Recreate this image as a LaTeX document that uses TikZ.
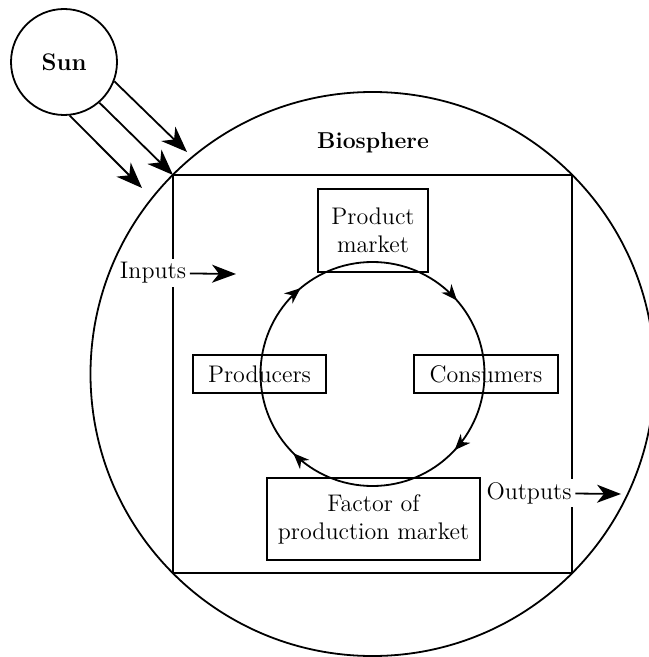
\documentclass[tikz,border=0pt]{standalone}
\usetikzlibrary{arrows.meta,decorations.markings}
\begin{document}
\begin{tikzpicture}[x=0.5pt,y=0.5pt,
	line width=0.9pt,
	box/.style={draw,rectangle,inner sep=0pt,align=center,font=\large},
	ray/.style={-{Stealth[length=13pt,width=10pt,inset=4pt]}},
	flow/.style={-{Stealth[length=12pt,width=9pt,inset=3.5pt]}},
	io/.style={fill=white,inner sep=1.5pt,font=\large},
	cyc/.tip={Stealth[length=8pt,width=6.5pt,inset=2.5pt]}
	]
	\useasboundingbox (0,0) rectangle (648,-657);
	\def\cx{372.5}
	\def\cy{-374}
	
	% sun and its rays
	\node[circle,draw,minimum size=53pt,inner sep=0pt,font=\large\bfseries] (sun) at (64,-62) {Sun};
	\coordinate (r1) at (187,-152);
	\coordinate (r2) at (173,-175);
	\coordinate (r3) at (142,-188);
	\draw[ray] (sun.-21) -- (r1);
	\draw[ray] (sun.-49) -- (r2);
	\draw[ray] (sun.-84) -- (r3);
	
	% biosphere
	\draw (\cx,\cy) circle (282);
	\draw (173,-175) rectangle (572,-573);
	\node[font=\fontsize{11.5}{13}\selectfont\bfseries] (bio) at (373,-143) {Biosphere};
	
	\node[io] (in) at (153,-273) {Inputs}; \coordinate (inEnd) at (236,-274);
	\node[io] (out) at (529,-493) {Outputs}; \coordinate (outEnd) at (621,-494);
	\draw[flow] (in) -- (inEnd);
	\draw[flow] (out) -- (outEnd);
	
	% markets
	\node[box,minimum width=55pt,minimum height=41.5pt] (pm) at (373,-230.5) {Product\\market};
	\node[box,minimum width=66.5pt,minimum height=19pt] (prod) at (259.5,-374) {Producers};
	\node[box,minimum width=72pt,minimum height=19pt] (cons) at (486,-374) {Consumers};
	\node[box,minimum width=106.5pt,minimum height=41pt] (fm) at (373.5,-519) {Factor of\\production market};
	
	\draw[postaction={decorate},decoration={markings,
		mark=at position 0.114 with {\arrowreversed{cyc}},
		mark=at position 0.361 with {\arrowreversed{cyc}},
		mark=at position 0.625 with {\arrowreversed{cyc}},
		mark=at position 0.881 with {\arrowreversed{cyc}}}]
		(\cx,\cy) circle (112);
\end{tikzpicture}
\end{document}
